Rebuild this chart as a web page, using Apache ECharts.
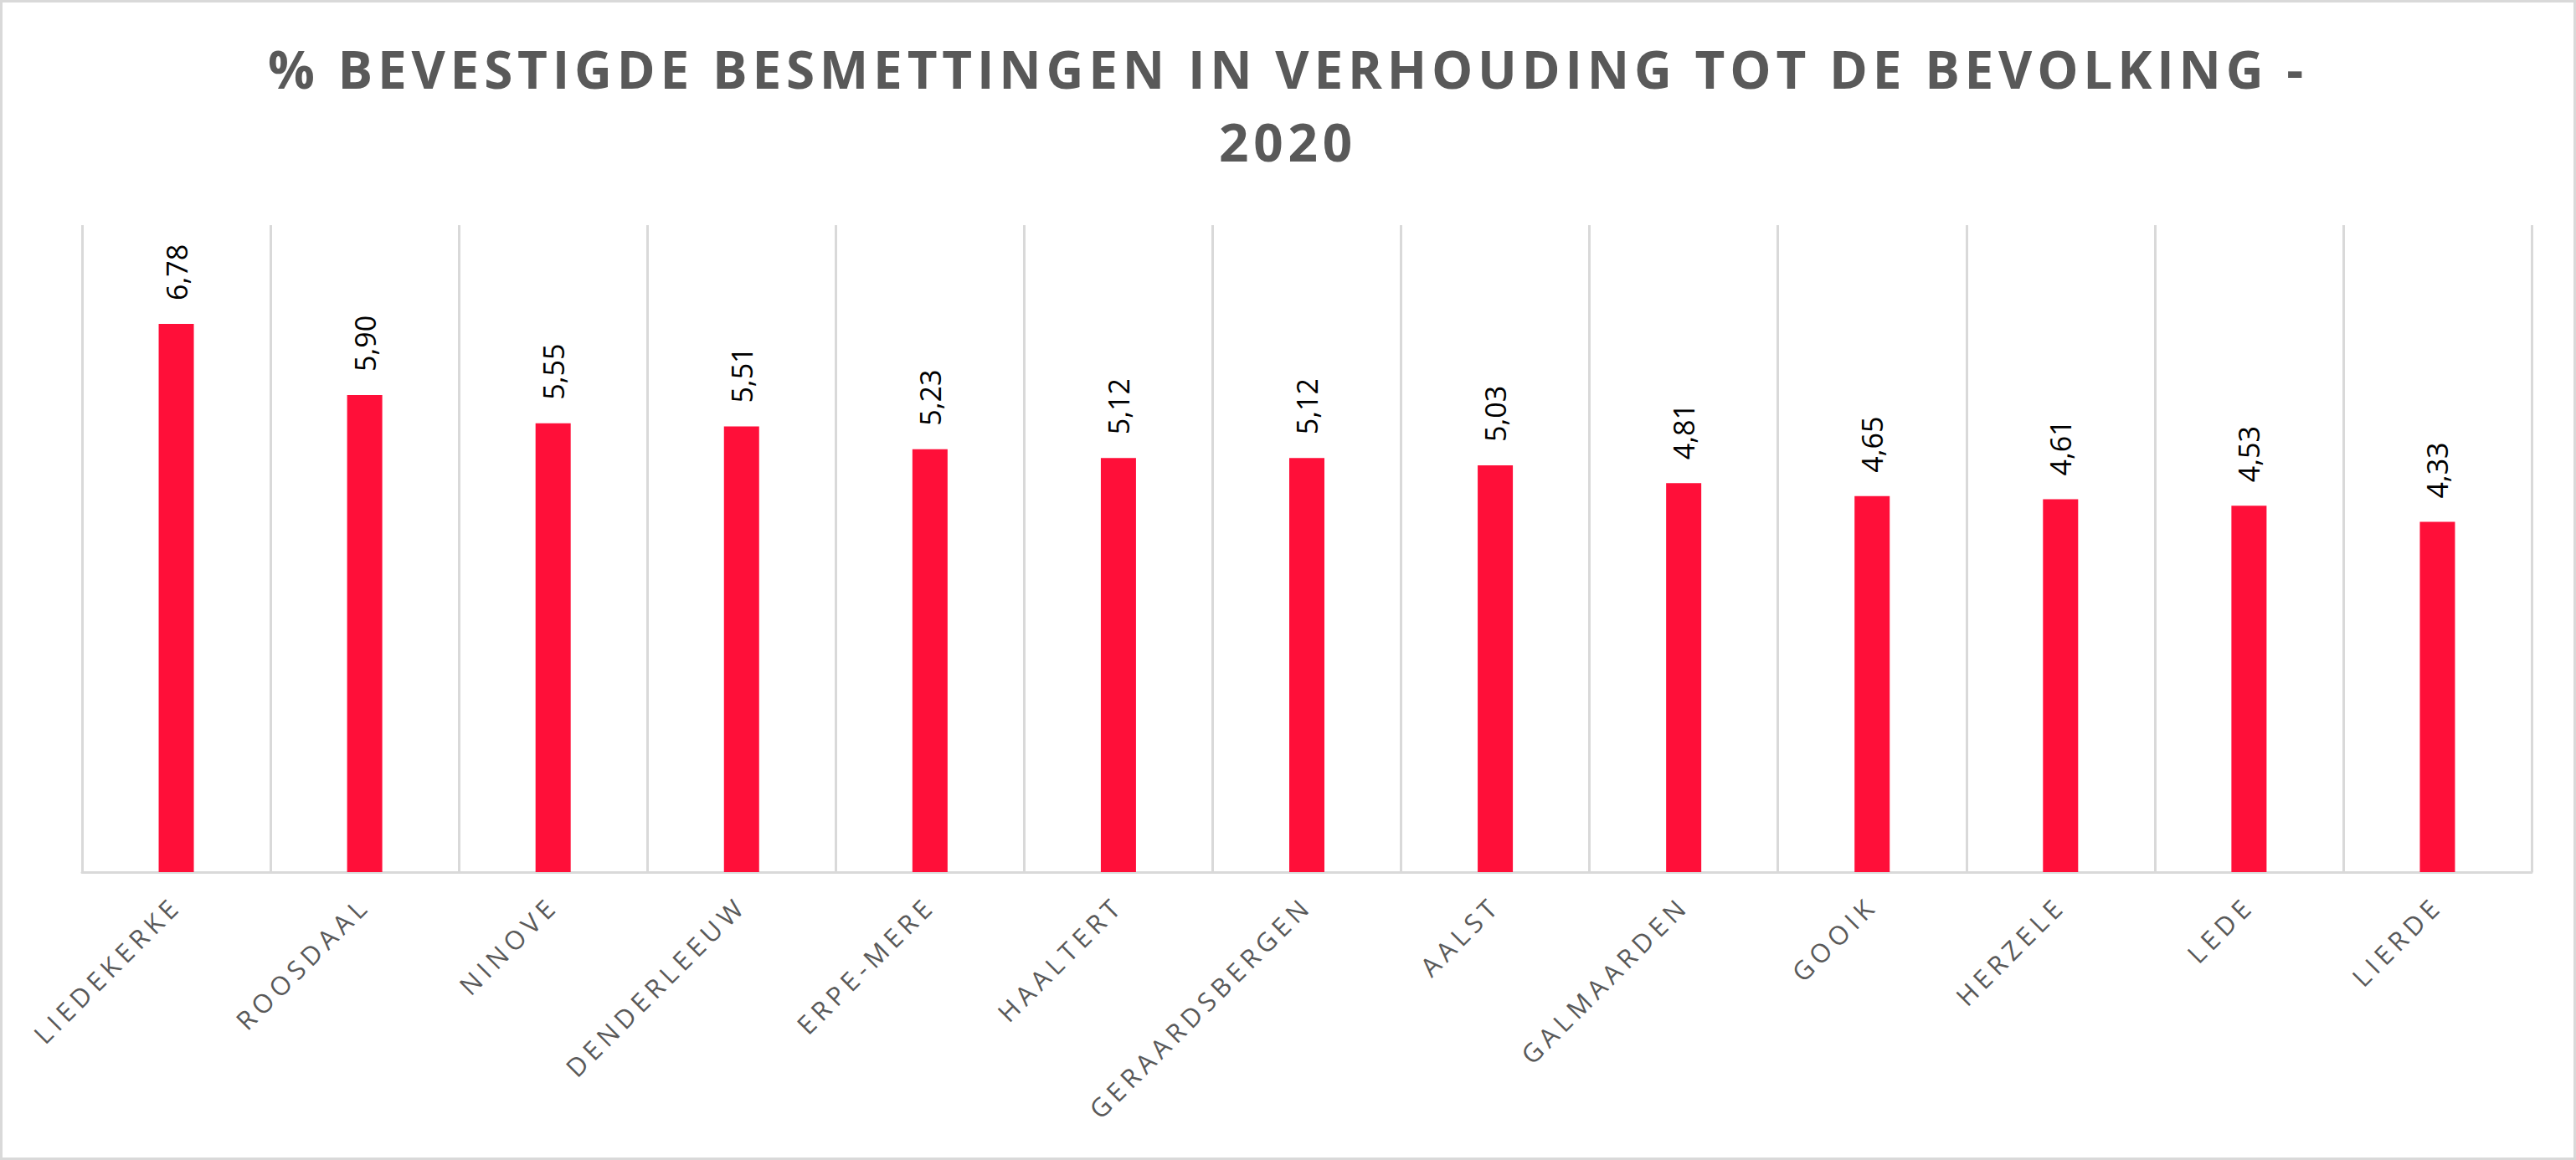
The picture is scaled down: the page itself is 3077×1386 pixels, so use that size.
<!DOCTYPE html>
<html>
<head>
<meta charset="utf-8">
<script src="https://cdn.jsdelivr.net/npm/echarts@6/dist/echarts.min.js"></script>
<style>
  html, body { margin: 0; padding: 0; background: #fff; }
  #chart { width: 3077px; height: 1386px; }
  #chart text[style*="62px"] { letter-spacing: 5.8px; }
  #chart text[style*="31px"] { letter-spacing: 6px; }
</style>
</head>
<body>
<div id="chart"></div>
<script>
const TITLE_LINE1 = '% BEVESTIGDE BESMETTINGEN IN VERHOUDING TOT DE BEVOLKING -';
const TITLE_LINE2 = '2020';
const categories = ['LIEDEKERKE', 'ROOSDAAL', 'NINOVE', 'DENDERLEEUW', 'ERPE-MERE', 'HAALTERT',
  'GERAARDSBERGEN', 'AALST', 'GALMAARDEN', 'GOOIK', 'HERZELE', 'LEDE', 'LIERDE'];
const values = [6.78, 5.90, 5.55, 5.51, 5.23, 5.12, 5.12, 5.03, 4.81, 4.65, 4.61, 4.53, 4.33];

const chart = echarts.init(document.getElementById('chart'), null, { renderer: 'svg' });
const grey = '#595959';
const lineGrey = '#d9d9d9';

chart.setOption({
  animation: false,
  backgroundColor: '#ffffff',
  graphic: [{
    type: 'rect', silent: true, z: -10,
    shape: { x: 1.5, y: 1.5, width: 3074, height: 1383 },
    style: { fill: 'none', stroke: lineGrey, lineWidth: 3 }
  }],
  title: [{
    text: TITLE_LINE1,
    left: 'center', top: 46,
    padding: [5, 45, 5, 5],
    textStyle: { fontFamily: 'Open Sans', fontWeight: 'bold', fontSize: 62, lineHeight: 62, color: grey }
  }, {
    text: TITLE_LINE2,
    left: 'center', top: 133,
    padding: [5, 5, 5, 10],
    textStyle: { fontFamily: 'Open Sans', fontWeight: 'bold', fontSize: 62, lineHeight: 62, color: grey }
  }],
  grid: { left: 98, right: 53, top: 269, bottom: 344, containLabel: false },
  xAxis: {
    type: 'category',
    data: categories,
    axisLine: { lineStyle: { color: lineGrey, width: 3 } },
    axisTick: { show: false },
    splitLine: { show: true, interval: 0, lineStyle: { color: lineGrey, width: 3 } },
    axisLabel: {
      interval: 0, rotate: 45, margin: 34,
      fontFamily: 'Open Sans', fontSize: 31, color: grey
    }
  },
  yAxis: {
    type: 'value', min: 0, max: 8, show: false,
    splitLine: { show: false }
  },
  series: [{
    type: 'bar',
    data: values,
    barWidth: 42,
    itemStyle: { color: '#FF0F39' },
    label: {
      show: true, position: 'top', distance: 28, rotate: 90,
      align: 'left', verticalAlign: 'middle',
      fontFamily: 'Open Sans', fontSize: 34, color: '#000000',
      formatter: p => p.value.toFixed(2).replace('.', ',')
    }
  }]
});
</script>
</body>
</html>
